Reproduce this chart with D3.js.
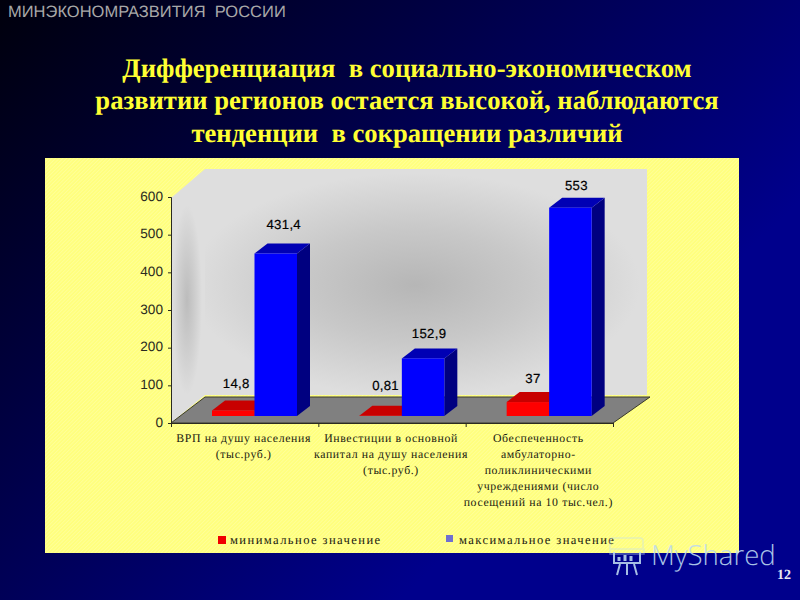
<!DOCTYPE html>
<html><head><meta charset="utf-8">
<script src="https://cdn.jsdelivr.net/npm/d3@7/dist/d3.min.js"></script>
<style>html,body{margin:0;padding:0;background:#000}svg{display:block}text{text-rendering:geometricPrecision}</style>
</head><body><svg id="c" width="800" height="600"></svg>
<script>
const categories = ["ВРП на душу населения (тыс.руб.)","Инвестиции в основной капитал на душу населения (тыс.руб.)","Обеспеченность амбулаторно-поликлиническими учреждениями (число посещений на 10 тыс.чел.)"];
const categoryLines = [
  ["ВРП на душу населения","(тыс.руб.)"],
  ["Инвестиции в основной","капитал на душу населения","(тыс.руб.)"],
  ["Обеспеченность","амбулаторно-","поликлиническими","учреждениями (число","посещений на 10 тыс.чел.)"]
];
const minValues = [14.8, 0.81, 37];
const maxValues = [431.4, 152.9, 553];
const seriesNames = ["минимальное значение","максимальное значение"];
const yTicks = [0,100,200,300,400,500,600];
const titleLines = ["Дифференциация  в социально-экономическом","развитии регионов остается высокой, наблюдаются","тенденции  в сокращении различий"];
const minLabelLift = [26,30,23];
const maxLabelLift = [29,24,22];
const minLabelShift = [3,5,5];
const maxLabelShift = [8,6,6];

const svg = d3.select("#c"), defs = svg.append("defs");
const bg = defs.append("linearGradient").attr("id","bg").attr("gradientUnits","userSpaceOnUse")
  .attr("x1",0).attr("y1",0).attr("x2",500).attr("y2",500);
[[0,"#00000c"],[.45,"#000044"],[1,"#00008c"]].forEach(s=>bg.append("stop").attr("offset",s[0]).attr("stop-color",s[1]));
svg.append("rect").attr("width",800).attr("height",600).attr("fill","url(#bg)");

const hatch = defs.append("pattern").attr("id","hatch").attr("width",2.6).attr("height",2.6)
  .attr("patternUnits","userSpaceOnUse").attr("patternTransform","rotate(-45)");
hatch.append("rect").attr("width",2.6).attr("height",2.6).attr("fill","#ffff7c");
hatch.append("rect").attr("width",2.6).attr("height",1).attr("fill","#ffff98");

const wall = defs.append("radialGradient").attr("id","wall").attr("gradientUnits","userSpaceOnUse")
  .attr("cx",0).attr("cy",0).attr("r",1).attr("gradientTransform","translate(415,285) scale(225,112)");
[[0,"#b6b6b6"],[.5,"#c8c8c8"],[1,"#dedede"]].forEach(s=>wall.append("stop").attr("offset",s[0]).attr("stop-color",s[1]));
const side = defs.append("radialGradient").attr("id","side").attr("gradientUnits","userSpaceOnUse")
  .attr("cx",0).attr("cy",0).attr("r",1).attr("gradientTransform","translate(187,300) scale(15,95)");
[[0,"#bcbcbc"],[.6,"#d0d0d0"],[1,"#dedede"]].forEach(s=>side.append("stop").attr("offset",s[0]).attr("stop-color",s[1]));

svg.append("text").attr("x",8).attr("y",17).attr("font-family","Liberation Sans").attr("font-size",16.5)
  .attr("fill","#a8a8a8").style("white-space","pre").text("МИНЭКОНОМРАЗВИТИЯ  РОССИИ");

svg.append("g").selectAll("text").data(titleLines).join("text")
  .attr("x",407).attr("y",(d,i)=>76.5+i*32.5).attr("text-anchor","middle")
  .attr("font-family","Liberation Serif").attr("font-weight","bold").attr("font-size",26.6)
  .attr("fill","#ffff33").style("white-space","pre").text(d=>d);

svg.append("rect").attr("x",45).attr("y",158).attr("width",694).attr("height",395).attr("fill","url(#hatch)");

// plot geometry
const x0 = 171, x1 = 613, yBase = 423, yTop = 197, depthX = 34, depthY = 26;
const barDepthX = 13, barDepthY = 10, barLift = 7;
const x = d3.scaleBand().domain(categories).range([x0,x1]);
const inner = d3.scaleBand().domain(seriesNames).range([41,126]);
const y = d3.scaleLinear().domain([0,600]).range([yBase,yTop]);

svg.append("rect").attr("x",x0+depthX).attr("y",y(600)-depthY-2).attr("width",x1-x0).attr("height",y(0)-y(600))
  .attr("fill","url(#wall)");
svg.append("path").attr("fill","url(#side)")
  .attr("d",d3.line()([[x0,y(600)+1],[x0+depthX,y(600)-depthY-2],[x0+depthX,y(0)-depthY-2],[x0,y(0)]]));
svg.append("path").attr("fill","#808080").attr("stroke","#3a3a2a").attr("stroke-width",1)
  .attr("d",d3.line()([[x0,y(0)],[x0+depthX,y(0)-depthY],[x1+depthX+3,y(0)-depthY],[x1,y(0)]])+"Z");

// axes
const yAxis = d3.axisLeft(y).tickValues(yTicks).tickSize(3).tickPadding(5);
const gy = svg.append("g").attr("transform",`translate(${x0},0)`).call(yAxis);
gy.selectAll("text").attr("font-family","Liberation Sans").attr("font-size",13.6).attr("fill","#2a2a20").attr("dy","0.22em");
gy.selectAll("line,path").attr("stroke","#2a2a20");
const xAxis = d3.axisBottom(d3.scaleLinear().domain([0,3]).range([x0,x1])).tickValues([0,1,2,3]).tickSize(4).tickFormat("");
const gx = svg.append("g").attr("transform",`translate(0,${yBase})`).call(xAxis);
gx.selectAll("line,path").attr("stroke","#2a2a20");

// bars
const shade = {min:["#ff0000","#c80000","#a80000"],max:["#0000ff","#0000b4","#000080"]};
function bars(values,name,pal){
  const g = svg.append("g").selectAll("g").data(values).join("g");
  const bx = (d,i)=>x(categories[i])+inner(name);
  const w = inner.bandwidth();
  const by = d=>y(d)-barLift, b0 = y(0)-barLift;
  g.append("path").attr("fill",pal[2]).attr("d",(d,i)=>d3.line()([[bx(d,i)+w,by(d)],[bx(d,i)+w+barDepthX,by(d)-barDepthY],[bx(d,i)+w+barDepthX,b0-barDepthY],[bx(d,i)+w,b0]])+"Z");
  g.append("path").attr("fill",pal[1]).attr("d",(d,i)=>d3.line()([[bx(d,i),by(d)],[bx(d,i)+barDepthX,by(d)-barDepthY],[bx(d,i)+w+barDepthX,by(d)-barDepthY],[bx(d,i)+w,by(d)]])+"Z");
  g.append("rect").attr("fill",pal[0]).attr("x",(d,i)=>bx(d,i)).attr("y",by).attr("width",w).attr("height",d=>b0-by(d));
}
bars(minValues,seriesNames[0],shade.min);
bars(maxValues,seriesNames[1],shade.max);

// value labels
function labels(values,name,lift,shift){
  svg.append("g").selectAll("text").data(values).join("text")
   .attr("x",(d,i)=>x(categories[i])+inner(name)+inner.bandwidth()/2+shift[i])
   .attr("y",(d,i)=>y(d)-barLift-lift[i]+4)
   .attr("text-anchor","middle").attr("font-family","Liberation Sans").attr("font-size",13.2)
   .attr("fill","#000").attr("stroke","#000").attr("stroke-width",.2).attr("letter-spacing",.3)
   .text(d=>String(d).replace(".",","));
}
labels(minValues,seriesNames[0],minLabelLift,minLabelShift);
labels(maxValues,seriesNames[1],maxLabelLift,maxLabelShift);

// category labels
categoryLines.forEach((lines,i)=>{
  svg.append("g").selectAll("text").data(lines).join("text")
    .attr("x",x(categories[i])+x.bandwidth()/2-1).attr("y",(d,j)=>442+j*16)
    .attr("text-anchor","middle").attr("font-family","Liberation Serif").attr("font-size",11.8)
    .attr("letter-spacing",.62).attr("fill","#1a1a10").text(d=>d);
});

// legend
const leg = svg.append("g").selectAll("g").data(seriesNames).join("g");
leg.append("rect").attr("x",(d,i)=>[218,446][i]).attr("y",(d,i)=>[536,535][i]).attr("width",(d,i)=>[8,7][i]).attr("height",(d,i)=>[8,7][i])
  .attr("fill",(d,i)=>["#f00000","#7070d0"][i]);
leg.append("text").attr("x",(d,i)=>[230,459][i]).attr("y",544).attr("font-family","Liberation Serif").attr("font-size",12.6)
  .attr("letter-spacing",1.4).attr("fill","#1a1a10").text(d=>d);

// watermark
const wm = svg.append("g").attr("stroke","#c4e0f4").attr("fill","none").attr("opacity",.85);
wm.append("path").attr("stroke-width",1.5).attr("opacity",.5).attr("d","M610 549V541Q610 538 613 538H640Q643 538 643 541V548M610 549H644V554H610Z");
wm.append("path").attr("stroke-width",2).attr("d","M614 552V563H640V552M627 563V575M620 564L617 575M634 564L637 575");
wm.append("path").attr("stroke-width",3).attr("d","M619 561V557M625 561V555M631 561V556");
svg.append("text").attr("x",651).attr("y",565).attr("font-family","Open Sans").attr("font-size",27.6).attr("font-weight",300)
  .attr("fill","#bcd8f0").attr("opacity",.9).text("MyShared");

svg.append("text").attr("x",791).attr("y",579).attr("text-anchor","end").attr("font-family","Liberation Serif")
  .attr("font-weight","bold").attr("font-size",14).attr("fill","#e8e8f4").text("12");
</script></body></html>
